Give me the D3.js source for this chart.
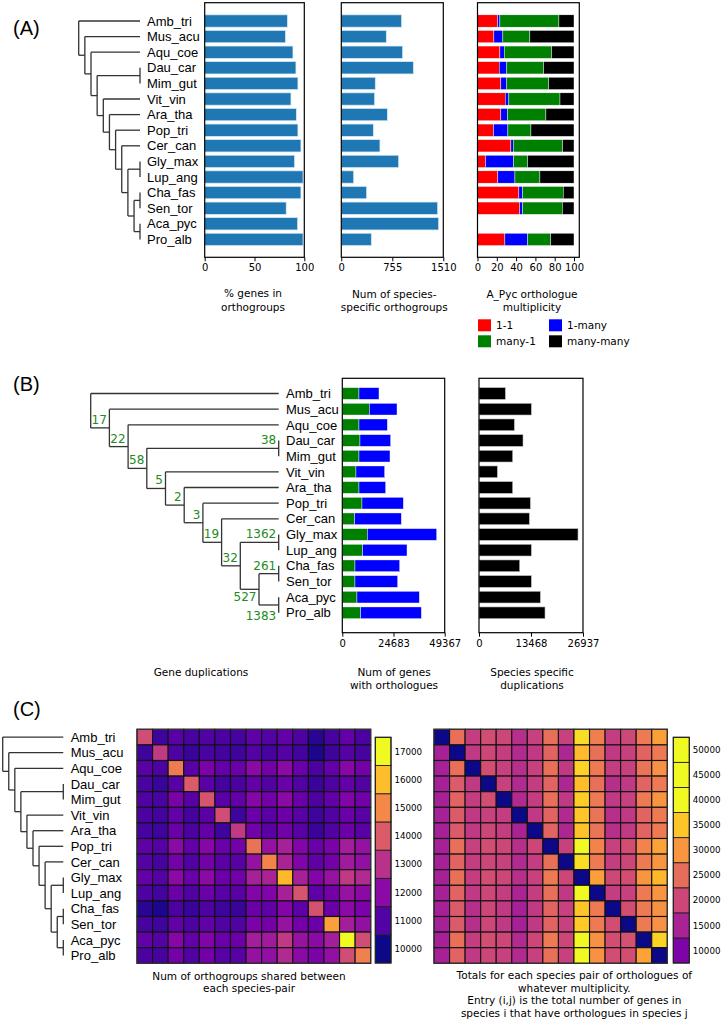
<!DOCTYPE html>
<html>
<head>
<meta charset="utf-8">
<script src="https://d3js.org/d3.v7.min.js"></script>
<style>
  body { margin: 0; background: #fff; }
  text { font-family: "DejaVu Sans", sans-serif; }
  .sp { font-family: "Liberation Sans", Arial, sans-serif; font-size: 13px; }
</style>
</head>
<body>
<svg id="fig" width="722" height="1022"></svg>
<script>
var species = ["Amb_tri","Mus_acu","Aqu_coe","Dau_car","Mim_gut","Vit_vin","Ara_tha","Pop_tri",
               "Cer_can","Gly_max","Lup_ang","Cha_fas","Sen_tor","Aca_pyc","Pro_alb"];

// species tree, nested pairs
var tree = ["Amb_tri",["Mus_acu",["Aqu_coe",[["Dau_car","Mim_gut"],["Vit_vin",["Ara_tha",["Pop_tri",
            ["Cer_can",[["Gly_max","Lup_ang"],[["Cha_fas","Sen_tor"],["Aca_pyc","Pro_alb"]]]]]]]]]]];

// gene duplications on internal nodes (preorder)
var dupCounts = [null, 17, 22, 58, 38, 5, 2, 3, 19, 32, 1362, 527, 261, 1383];

// (A)
var pctInOG = [83, 81, 88.6, 91.6, 93.6, 86.6, 92, 93.6, 96.6, 90.2, 98.7, 96.6, 81.8, 93.3, 98.7];
var specificOG = [893, 666, 908, 1066, 503, 493, 681, 474, 572, 849, 183, 375, 1426, 1441, 444];
var mult11 = [20.8, 17, 23.2, 22.5, 24.2, 28.7, 24.2, 16.6, 34.6, 8.3, 21.1, 42.9, 43.6, 0, 28.4];
var mult1many = [2.4, 9.3, 4.5, 7.9, 6.2, 3.8, 6.9, 14.9, 2.4, 29.1, 17.7, 3.8, 3.1, 0, 23.5];
var multMany1 = [61.2, 28, 49.1, 38.1, 43.3, 53, 39.8, 23.9, 51.2, 14.5, 25.9, 42.2, 41.2, 0, 23.9];
var multManyMany = [15.6, 45.7, 23.2, 31.5, 26.3, 14.5, 29.1, 44.6, 11.8, 48.1, 35.3, 11.1, 12.1, 0, 24.2];
var multKeys = ["1-1", "1-many", "many-1", "many-many"];
var ticksPct = [0, 50, 100];
var ticksSpecOG = [0, 755, 1510];
var ticksMult = [0, 20, 40, 60, 80, 100];

// (B)
var orthoGreen = [8040, 13025, 8040, 8523, 8040, 6593, 8040, 9488, 5950, 12060, 9809, 6111, 6111, 7075, 8844];
var orthoTotal = [17688, 26372, 21709, 23317, 22995, 20422, 20905, 29427, 28463, 45508, 31196, 27658, 26694, 37146, 38111];
var specDup = [6821, 13555, 9152, 11396, 8720, 4748, 8720, 13296, 13037, 25642, 13555, 10533, 13555, 15886, 17094];
var ticksOrtho = [0, 24683, 49367];
var ticksDup = [0, 13468, 26937];

// (C)
var sharedOG = [
  [13640,10630,11120,10840,10980,10880,10770,11230,11020,11260,10910,10350,10770,11260,10880],
  [10630,13220,10910,10560,10840,10740,10630,11020,10770,11020,10740,10140,10630,11020,10800],
  [11120,10910,14730,11120,11680,11260,11400,12000,11580,12000,11440,10880,11260,11890,11580],
  [10840,10560,11120,13990,11120,10740,10880,11260,10980,11400,10980,10600,10910,11260,10980],
  [10980,10840,11680,11120,13850,11120,11300,11890,11540,12000,11440,10910,11300,11790,11510],
  [10880,10740,11260,10740,11120,13640,10670,11400,11120,11440,11090,10630,10980,11400,11090],
  [10770,10630,11400,10880,11300,10670,13150,11540,11120,11540,11120,10600,10980,11440,11090],
  [11230,11020,12000,11260,11890,11400,11540,14520,12200,12560,11860,11400,11720,12490,12200],
  [11020,10770,11580,10980,11540,11120,11120,12200,14900,12630,11790,11230,11580,12420,12140],
  [11260,11020,12000,11400,12000,11440,11540,12560,12630,15920,12560,11860,12240,13150,12800],
  [10910,10740,11440,10980,11440,11090,11120,11860,11790,12560,13820,11190,11580,12240,12000],
  [10350,10140,10880,10600,10910,10630,10600,11400,11230,11860,11190,13750,11440,12000,11680],
  [10770,10630,11260,10910,11300,10980,10980,11720,11580,12240,11580,11440,15460,12490,12140],
  [11260,11020,11890,11260,11790,11400,11440,12490,12420,13150,12240,12000,12490,17000,13640],
  [10880,10800,11580,10980,11510,11090,11090,12200,12140,12800,12000,11680,12140,13640,14830]
];
var pairTotals = [
  [0,25600,18600,21000,20000,16800,19200,25600,19200,37200,27400,18600,20200,26800,31200],
  [14600,0,18000,20000,18600,16000,18000,24000,15600,34000,25600,18000,19200,24000,26800],
  [14600,25600,0,21000,19200,16800,19200,25600,18000,36400,26800,18600,19200,26000,29600],
  [14600,22800,18000,0,19200,16000,18600,24000,15600,34400,25600,16800,18000,24000,26800],
  [14600,24000,18600,21000,0,16000,18600,25600,18000,36000,26800,18000,19200,26800,30000],
  [14600,22800,18000,19200,18600,0,18000,24000,16000,35000,26000,16800,18000,24000,26800],
  [14600,22800,18000,20000,18600,15000,0,24000,15600,34800,26000,16800,18000,24000,26800],
  [14600,25600,19200,21000,20000,16800,20000,0,19200,40000,28000,19200,21000,28000,31600],
  [14600,24000,18600,20000,19200,16000,18600,25600,0,37200,26800,18600,20000,26800,30000],
  [14600,25600,18600,21000,20000,16800,19200,26800,20000,0,31200,20200,21000,30000,33600],
  [14600,24000,18000,20000,18600,15200,18600,25600,18000,40000,0,18600,19200,26800,30000],
  [14600,22800,16800,20000,18000,14600,18000,24000,19200,35000,26800,0,21000,26800,29600],
  [14600,22800,16800,20000,18000,14600,18000,24000,19200,35600,26800,21000,0,26800,29600],
  [14600,25600,18600,21000,20000,16000,20000,26800,20000,40000,29600,21000,21400,0,36400],
  [14600,24000,18000,20000,19200,16000,19200,25600,19200,40000,29600,21000,21000,31600,0]
];
var cb1Ticks = [10000, 11000, 12000, 13000, 14000, 15000, 16000, 17000];
var cb2Ticks = [10000, 15000, 20000, 25000, 30000, 35000, 40000, 45000, 50000];

var svg = d3.select("#fig");
svg.append("rect").attr("width", 722).attr("height", 1022).attr("fill", "#fff");

var panelLabel = function(txt, x, y) {
  svg.append("text").attr("x", x).attr("y", y).text(txt)
    .style("font-family", "'Liberation Sans', Arial, sans-serif").style("font-size", "20px");
};
panelLabel("(A)", 13, 35);
panelLabel("(B)", 13, 391);
panelLabel("(C)", 13, 716);

var drawTree = function(o) {
  var root = d3.hierarchy(tree, function(d) { return Array.isArray(d) ? d : null; });
  var leaves = root.leaves();
  var yScale = d3.scaleLinear().domain([0, leaves.length - 1]).range([o.y0, o.y1]);
  leaves.forEach(function(l, i) { l.y = yScale(i); });
  root.eachAfter(function(n) {
    if (n.children) {
      n.y = d3.mean(n.children, function(c) { return c.y; });
      var cherry = n.children.every(function(c) { return !c.children; });
      n.x = cherry ? o.xLeaf : o.xRoot + n.depth * o.step;
    } else {
      n.x = o.xLeaf;
    }
  });
  var g = svg.append("g");
  var nodes = root.descendants();
  g.selectAll("line.h")
    .data(nodes.filter(function(n) { return n.parent; }))
    .enter().append("line")
    .attr("x1", function(n) { return n.parent.x; })
    .attr("x2", function(n) { return n.x; })
    .attr("y1", function(n) { return n.y; })
    .attr("y2", function(n) { return n.y; })
    .attr("stroke", "#333").attr("stroke-width", 1.3);
  g.selectAll("line.v")
    .data(nodes.filter(function(n) { return n.children; }))
    .enter().append("line")
    .attr("x1", function(n) { return n.x; })
    .attr("x2", function(n) { return n.x; })
    .attr("y1", function(n) { return d3.min(n.children, function(c) { return c.y; }); })
    .attr("y2", function(n) { return d3.max(n.children, function(c) { return c.y; }); })
    .attr("stroke", "#333").attr("stroke-width", 1.3);
  g.selectAll("text.sp")
    .data(leaves)
    .enter().append("text")
    .attr("class", "sp")
    .attr("x", o.labelX)
    .attr("y", function(n) { return n.y; })
    .attr("dy", "0.36em")
    .text(function(n) { return n.data; });

  if (o.dups) {
    var internal = [];
    root.eachBefore(function(n) { if (n.children) internal.push(n); });
    var below = [11, 13];
    internal.forEach(function(n, i) {
      if (dupCounts[i] == null) return;
      g.append("text")
        .attr("x", n.x - 2.5)
        .attr("y", below.indexOf(i) >= 0 ? n.y + (i == 13 ? 15 : 12) : n.y - 4)
        .attr("text-anchor", "end")
        .style("font-size", "12px")
        .attr("fill", "#228b22")
        .text(dupCounts[i]);
    });
  }
};

drawTree({ xRoot: 78.7, step: 6.15, xLeaf: 140, y0: 21, y1: 239.4, labelX: 147 });
drawTree({ xRoot: 90.7, step: 18.7, xLeaf: 278.7, y0: 393.5, y1: 612.8, labelX: 286, dups: true });
drawTree({ xRoot: 2.7, step: 6.06, xLeaf: 63.3, y0: 737.1, y1: 955.5, labelX: 70.7 });

// frame + bottom axis helper
var frame = function(x0, x1, y0, y1, domain, ticks) {
  var x = d3.scaleLinear().domain(domain).range([x0, x1]);
  var g = svg.append("g");
  g.append("g")
    .attr("transform", "translate(0," + y1 + ")")
    .call(d3.axisBottom(x).tickValues(ticks).tickFormat(d3.format("d"))
      .tickSize(4).tickSizeOuter(0).tickPadding(3))
    .call(function(a) {
      a.selectAll("text").style("font-family", "'DejaVu Sans'").style("font-size", "10px").attr("fill", "#000");
      a.selectAll("line").attr("stroke", "#000");
      a.select(".domain").remove();
    });
  g.append("rect").attr("x", x0).attr("y", y0).attr("width", x1 - x0).attr("height", y1 - y0)
    .attr("fill", "none").attr("stroke", "#000").attr("stroke-width", 1.2);
  return { x: x, g: g };
};

var caption = function(lines, cx, y0, lh) {
  lines.forEach(function(t, i) {
    svg.append("text").attr("x", cx).attr("y", y0 + i * lh).attr("text-anchor", "middle")
      .style("font-size", "10.5px").text(t);
  });
};

// ---------- (A) ----------
var rowA = d3.scaleLinear().domain([0, 14]).range([21, 239.4]);
var barHA = 12.3;

var a1 = frame(204.7, 304.3, 2.7, 257.3, [0, 100], ticksPct);
a1.g.insert("g", "rect").selectAll("rect")
  .data(pctInOG).enter().append("rect")
  .attr("x", a1.x(0))
  .attr("y", function(d, i) { return rowA(i) - barHA / 2; })
  .attr("width", function(d) { return a1.x(d) - a1.x(0); })
  .attr("height", barHA)
  .attr("fill", "#1f77b4").attr("stroke", "#d6e6f4").attr("stroke-width", 0.7);

var a2 = frame(341.3, 443.3, 2.7, 257.3, [0, 1510], ticksSpecOG);
a2.g.insert("g", "rect").selectAll("rect")
  .data(specificOG).enter().append("rect")
  .attr("x", a2.x(0))
  .attr("y", function(d, i) { return rowA(i) - barHA / 2; })
  .attr("width", function(d) { return a2.x(d) - a2.x(0); })
  .attr("height", barHA)
  .attr("fill", "#1f77b4").attr("stroke", "#d6e6f4").attr("stroke-width", 0.7);

var multRows = species.map(function(s, i) {
  return { "1-1": mult11[i], "1-many": mult1many[i], "many-1": multMany1[i], "many-many": multManyMany[i] };
});
var multColor = d3.scaleOrdinal().domain(multKeys).range(["#ff0000", "#0000ff", "#008000", "#000000"]);
var stacked = d3.stack().keys(multKeys)(multRows);
var a3 = frame(477.5, 579.3, 2.7, 257.3, [0, 105.5], ticksMult);
a3.g.insert("g", "rect").selectAll("g")
  .data(stacked).enter().append("g")
  .attr("fill", function(s) { return multColor(s.key); })
  .selectAll("rect")
  .data(function(s) { return s; }).enter().append("rect")
  .attr("x", function(d) { return a3.x(d[0]); })
  .attr("y", function(d, i) { return rowA(i) - barHA / 2; })
  .attr("width", function(d) { return a3.x(d[1]) - a3.x(d[0]); })
  .attr("height", barHA)
  .attr("stroke", "#fff").attr("stroke-width", 0.4);

caption(["% genes in", "orthogroups"], 253, 297, 13.5);
caption(["Num of species-", "specific orthogroups"], 394.3, 298, 13);
caption(["A_Pyc orthologue", "multiplicity"], 532, 298, 13);

var legend = svg.append("g").selectAll("g")
  .data(multKeys).enter().append("g")
  .attr("transform", function(d, i) { return "translate(" + (i % 2 ? 549 : 478) + "," + (i < 2 ? 319.3 : 335.3) + ")"; });
legend.append("rect").attr("width", 13).attr("height", 12).attr("fill", function(d) { return multColor(d); });
legend.append("text").attr("x", 18).attr("y", 10).style("font-size", "10.5px").text(function(d) { return d; });

// ---------- (B) ----------
var rowB = d3.scaleLinear().domain([0, 14]).range([393.5, 612.8]);
var barHB = 11.7;

var b1 = frame(342.3, 444.7, 378.3, 632.7, [0, 49367], ticksOrtho);
var orthoRows = species.map(function(s, i) { return { green: orthoGreen[i], blue: orthoTotal[i] - orthoGreen[i] }; });
var orthoStack = d3.stack().keys(["green", "blue"])(orthoRows);
var orthoColor = d3.scaleOrdinal().domain(["green", "blue"]).range(["#008000", "#0000ff"]);
b1.g.insert("g", "rect").selectAll("g")
  .data(orthoStack).enter().append("g")
  .attr("fill", function(s) { return orthoColor(s.key); })
  .selectAll("rect")
  .data(function(s) { return s; }).enter().append("rect")
  .attr("x", function(d) { return b1.x(d[0]); })
  .attr("y", function(d, i) { return rowB(i) - barHB / 2; })
  .attr("width", function(d) { return b1.x(d[1]) - b1.x(d[0]); })
  .attr("height", barHB)
  .attr("stroke", "#fff").attr("stroke-width", 0.4);

var b2 = frame(479, 583, 378.3, 632.7, [0, 26937], ticksDup);
b2.g.insert("g", "rect").selectAll("rect")
  .data(specDup).enter().append("rect")
  .attr("x", b2.x(0))
  .attr("y", function(d, i) { return rowB(i) - barHB / 2; })
  .attr("width", function(d) { return b2.x(d) - b2.x(0); })
  .attr("height", barHB)
  .attr("fill", "#000").attr("stroke", "#bbb").attr("stroke-width", 0.6);

caption(["Gene duplications"], 201, 676, 13);
caption(["Num of genes", "with orthologues"], 394, 676, 13);
caption(["Species specific", "duplications"], 532, 676, 13);

// ---------- (C) ----------
var heatmap = function(data, x0, x1, y0, y1, color) {
  var hx = d3.scaleBand().domain(d3.range(species.length)).range([x0, x1]);
  var hy = d3.scaleBand().domain(d3.range(species.length)).range([y0, y1]);
  var g = svg.append("g");
  g.selectAll("g").data(data).enter().append("g")
    .attr("transform", function(r, i) { return "translate(0," + hy(i) + ")"; })
    .selectAll("rect").data(function(r) { return r; }).enter().append("rect")
    .attr("x", function(v, j) { return hx(j); })
    .attr("width", hx.bandwidth())
    .attr("height", hy.bandwidth())
    .attr("fill", function(v) { return color(v); })
    .attr("stroke", "#111").attr("stroke-width", 1.1);
  g.append("rect").attr("x", x0).attr("y", y0).attr("width", x1 - x0).attr("height", y1 - y0)
    .attr("fill", "none").attr("stroke", "#333").attr("stroke-width", 1.2);
};

var colorbar = function(ticks, x0, w, y0, y1, color) {
  var by = d3.scaleBand().domain(ticks.slice().reverse()).range([y0, y1]);
  var g = svg.append("g");
  g.selectAll("rect").data(ticks).enter().append("rect")
    .attr("x", x0).attr("y", function(v) { return by(v); })
    .attr("width", w).attr("height", by.bandwidth())
    .attr("fill", function(v) { return color(v); })
    .attr("stroke", "#222").attr("stroke-width", 0.9);
  g.append("rect").attr("x", x0).attr("y", y0).attr("width", w).attr("height", y1 - y0)
    .attr("fill", "none").attr("stroke", "#222").attr("stroke-width", 1.1);
  g.selectAll("text").data(ticks).enter().append("text")
    .attr("x", x0 + w + 3.5)
    .attr("y", function(v) { return by(v) + by.bandwidth() / 2; })
    .attr("dy", "0.36em")
    .style("font-size", "8.7px")
    .text(function(v) { return v; });
};

var col1 = d3.scaleSequential(d3.interpolatePlasma).domain([10000, 17000]).clamp(true);
var col2 = d3.scaleSequential(d3.interpolatePlasma).domain([0, 40000]).clamp(true);

heatmap(sharedOG, 137, 370.7, 729.3, 963.3, col1);
colorbar(cb1Ticks, 375.3, 15.7, 737.3, 963, col1);
heatmap(pairTotals, 434, 667.3, 729.3, 963.3, col2);
colorbar(cb2Ticks, 673.3, 16, 737.3, 963, col2);

caption(["Num of orthogroups shared between", "each species-pair"], 249, 980, 11.7);
caption(["Totals for each species pair of orthologues of", "whatever multiplicity.",
         "Entry (i,j) is the total number of genes in", "species i that have orthologues in species j"], 574.3, 979, 12.7);
</script>
</body>
</html>
